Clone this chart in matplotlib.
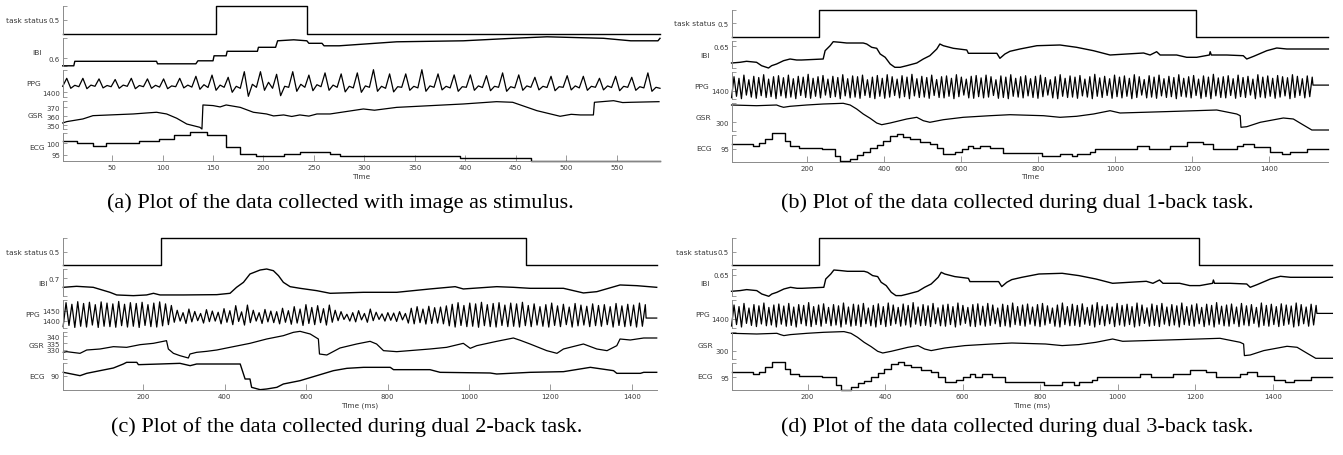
"""plot.py - stacked physiological recordings (task status, IBI, PPG, GSR, ECG) for four sessions"""

# === IMPORTS ===
import matplotlib
matplotlib.use("Agg")
import matplotlib.pyplot as plt
import numpy as np

# === CANVAS ===
FIG_W_PX = 1343
FIG_H_PX = 456
DPI = 100

TRACE_COLOR = "black"
AXIS_COLOR = "#8a8a8a"
TEXT_COLOR = "#3a3a3a"
TICK_FONT = 5.0
LABEL_FONT = 5.4
CAPTION_FONT = 16

SIGNAL_NAMES = ["task status", "IBI", "PPG", "GSR", "ECG"]

# === PANEL (a): image as stimulus ===
TASK_A_T = [1, 153, 243, 593]
TASK_A = [0, 1, 0, 0]

IBI_A_T = [1, 12, 13, 94, 95, 133, 135, 150, 151, 163, 164, 194, 195, 212, 214,
           230, 243, 245, 258, 260, 275, 332, 398, 447, 481, 537, 564, 591, 593]
IBI_A = [0.585, 0.585, 0.594, 0.594, 0.589, 0.589, 0.595, 0.595, 0.605, 0.605,
         0.614, 0.614, 0.622, 0.622, 0.635, 0.637, 0.635, 0.630, 0.630, 0.625,
         0.625, 0.633, 0.635, 0.640, 0.643, 0.640, 0.635, 0.635, 0.640]

# one row per beat: baseline, peak, dip, notch
PPG_A = [
    1430, 1470, 1420, 1435,
    1428, 1470, 1418, 1436,
    1430, 1467, 1422, 1434,
    1428, 1464, 1420, 1436,
    1430, 1470, 1418, 1434,
    1428, 1467, 1420, 1435,
    1426, 1467, 1418, 1432,
    1428, 1470, 1422, 1436,
    1426, 1480, 1415, 1438,
    1424, 1486, 1410, 1436,
    1425, 1475, 1400, 1430,
    1420, 1503, 1380, 1440,
    1425, 1503, 1410, 1450,
    1420, 1490, 1383, 1430,
    1425, 1503, 1405, 1440,
    1425, 1486, 1408, 1438,
    1428, 1497, 1410, 1436,
    1425, 1492, 1402, 1430,
    1422, 1497, 1400, 1432,
    1425, 1513, 1405, 1430,
    1420, 1492, 1402, 1428,
    1425, 1492, 1410, 1430,
    1422, 1513, 1405, 1432,
    1425, 1492, 1412, 1430,
    1422, 1487, 1405, 1428,
    1425, 1487, 1410, 1432,
    1424, 1483, 1408, 1430,
    1425, 1497, 1405, 1428,
    1422, 1487, 1410, 1432,
    1425, 1475, 1412, 1430,
    1424, 1480, 1408, 1428,
    1425, 1483, 1412, 1432,
    1422, 1480, 1410, 1430,
    1425, 1470, 1412, 1432,
    1424, 1480, 1408, 1430,
    1425, 1475, 1410, 1428,
    1422, 1497, 1405, 1425,
    1420,
]
PPG_A_SPAN = (1, 593)

GSR_A_T = [1, 5, 21, 31, 54, 71, 84, 94, 104, 114, 124, 137, 139, 140, 150, 157,
           163, 177, 190, 203, 210, 220, 228, 236, 245, 253, 266, 299, 310, 332,
           365, 398, 431, 447, 471, 494, 505, 514, 527, 528, 547, 556, 564, 592]
GSR_A = [352.5, 354, 357, 360.7, 361.8, 362.6, 363.7, 364.5, 362.6, 357.8,
         351.3, 347.6, 345.7, 372.7, 372, 370.5, 372.7, 370, 364.5, 362.6,
         360.4, 361.5, 359.8, 361.5, 360.2, 362.6, 362.6, 368.2, 366.8, 370,
         371.9, 373.8, 376.4, 375.7, 366.3, 360, 362.2, 361.5, 361.5, 375.7,
         377.5, 375.4, 375.7, 376.4]

ECG_A_T = [1, 15, 31, 44, 77, 96, 111, 127, 144, 163, 177, 193, 220, 236, 266,
           276, 395, 465, 593]
ECG_A = [100.7, 99.9, 98.8, 99.9, 100.7, 101.7, 103.5, 104.6, 103.5, 98.2,
         95.3, 94.3, 95.3, 96, 95.3, 94.6, 93.5, 92.4, 92.4]

# === PANEL (b): dual 1-back (panel (d), dual 3-back, shows the same recording) ===
TASK_B_T = [4, 230, 1210, 1554]
TASK_B = [0, 1, 0, 0]

IBI_B_T = [4, 26, 43, 69, 82, 100, 108, 121, 139, 156, 173, 186, 242, 247, 260,
           268, 286, 303, 346, 355, 368, 381, 390, 403, 416, 428, 442, 459, 485,
           502, 519, 537, 545, 554, 580, 615, 619, 693, 701, 714, 727, 753, 797,
           857, 900, 944, 987, 1030, 1074, 1091, 1108, 1117, 1160, 1186, 1212,
           1245, 1247, 1250, 1290, 1333, 1342, 1360, 1394, 1420, 1446, 1554]
IBI_B = [0.6166, 0.618, 0.620, 0.618, 0.6112, 0.6066, 0.6112, 0.6146, 0.6212, 0.6246,
         0.6226, 0.6226, 0.6246, 0.6412, 0.6512, 0.6592, 0.658, 0.6566, 0.6566, 0.6546,
         0.648, 0.646, 0.6346, 0.628, 0.6146, 0.608, 0.608, 0.6112, 0.6166, 0.6246,
         0.6312, 0.6446, 0.6546, 0.6512, 0.646, 0.6426, 0.636, 0.636, 0.626, 0.6346,
         0.640, 0.6446, 0.6512, 0.6526, 0.648, 0.6412, 0.6326, 0.6346, 0.6366, 0.6326,
         0.6392, 0.6326, 0.6326, 0.628, 0.628, 0.6326, 0.6392, 0.6326, 0.6326, 0.6312,
         0.6246, 0.630, 0.6412, 0.6466, 0.6446, 0.6446]

PPG_B_PEAK = [
    1470, 1462, 1478, 1455, 1472, 1466, 1480, 1458, 1470, 1475,
    1465, 1478, 1460, 1472, 1468, 1482, 1462, 1470, 1476, 1458,
    1472, 1466, 1480, 1460, 1474, 1470, 1478, 1455, 1468, 1476,
    1462, 1480, 1470, 1458, 1475, 1468, 1482, 1460, 1472, 1466,
    1478, 1456, 1470, 1474, 1462, 1480, 1468, 1458, 1472, 1476,
    1464, 1478, 1470, 1455, 1474, 1468, 1480, 1462, 1470, 1475,
    1460, 1472, 1478, 1466, 1455, 1470, 1480, 1462, 1474, 1468,
    1476, 1458, 1470, 1482, 1464, 1472, 1460, 1478, 1468, 1474,
    1462, 1480, 1470, 1456, 1475, 1468, 1478, 1460, 1472, 1466,
    1480, 1462, 1470, 1476, 1458, 1474, 1468, 1482, 1464, 1470,
    1475, 1460, 1478, 1466, 1472, 1458, 1480, 1468, 1474, 1462,
    1476, 1470, 1465, 1480, 1472, 1460, 1474, 1468,
]
PPG_B_TROUGH = [
    1365, 1372, 1360, 1378, 1368, 1362, 1375, 1366, 1370, 1360,
    1374, 1364, 1368, 1360, 1376, 1366, 1362, 1372, 1364, 1378,
    1366, 1370, 1360, 1374, 1364, 1368, 1362, 1376, 1366, 1360,
    1372, 1362, 1368, 1376, 1364, 1370, 1360, 1374, 1366, 1368,
    1362, 1376, 1366, 1364, 1372, 1360, 1370, 1378, 1364, 1362,
    1370, 1364, 1368, 1376, 1362, 1366, 1360, 1372, 1368, 1364,
    1374, 1366, 1362, 1370, 1378, 1364, 1360, 1372, 1366, 1368,
    1362, 1374, 1368, 1360, 1372, 1366, 1376, 1362, 1370, 1364,
    1372, 1360, 1366, 1378, 1364, 1368, 1362, 1374, 1366, 1370,
    1360, 1372, 1368, 1364, 1376, 1362, 1370, 1360, 1374, 1366,
    1364, 1376, 1362, 1370, 1366, 1378, 1360, 1368, 1364, 1372,
    1362, 1368, 1374, 1360, 1366, 1376, 1364, 1370,
]
PPG_B_SPAN = (4, 1512)
PPG_B_TAIL = (1554, 1428)

GSR_B_T = [4, 69, 121, 130, 139, 156, 199, 242, 294, 312, 329, 346, 364, 381,
           394, 416, 459, 485, 502, 519, 554, 606, 675, 727, 814, 857, 900, 944,
           987, 1013, 1074, 1160, 1264, 1316, 1325, 1327, 1342, 1377, 1437, 1463,
           1489, 1511, 1554]
GSR_B = [334.6, 333.2, 334.6, 332, 330, 332, 334.6, 336.6, 338, 334.6,
         326.6, 316.6, 308, 298.6, 295.2, 298.6, 306.6, 310, 303.2, 300,
         305.2, 310, 313.2, 315.2, 313.2, 310, 312, 316.6, 323.2, 318.6,
         320, 322, 324.6, 316.6, 313.2, 290, 291.2, 300, 308.6, 306.6,
         294.6, 284.6, 284.6]

ECG_B_T = [4, 60, 74, 91, 108, 143, 156, 178, 238, 273, 286, 312, 329, 346, 364,
           381, 398, 416, 433, 450, 468, 494, 519, 537, 554, 584, 602, 619, 632,
           650, 675, 710, 810, 857, 887, 900, 935, 948, 1057, 1087, 1143, 1186,
           1229, 1255, 1316, 1333, 1360, 1403, 1433, 1455, 1498, 1554]
ECG_B = [97, 96.3, 97.3, 99, 101.3, 98.3, 96.3, 95.4, 95, 92.1,
         90.1, 91, 92.6, 93.7, 95.3, 96.6, 98.3, 100.3, 101, 99.9,
         99, 97.9, 97, 95.3, 93, 93.9, 95, 96.3, 95.3, 96.3,
         95.3, 93.3, 92.1, 93, 92.1, 93, 93.9, 95, 96.3, 95,
         96.3, 97.9, 97, 95, 96.3, 97, 95.7, 93.9, 93, 93.9,
         95, 95]

# === PANEL (c): dual 2-back ===
TASK_C_T = [2, 243, 1140, 1461]
TASK_C = [0, 1, 0, 0]

IBI_C_T = [3.5, 36, 77, 118, 134.5, 175.5, 208, 225, 241, 298.5, 380.5, 413,
           429, 446, 462, 487, 503, 519.5, 532, 544, 560.6, 585, 626, 659,
           740.6, 822.5, 904, 966, 986, 1068, 1109, 1150, 1232, 1281, 1314,
           1371, 1412, 1461]
IBI_C = [0.682, 0.684, 0.682, 0.672, 0.6667, 0.6653, 0.6667, 0.670, 0.6667, 0.6667,
         0.6673, 0.670, 0.682, 0.692, 0.7087, 0.7167, 0.7187, 0.7153, 0.7053, 0.692,
         0.6833, 0.680, 0.6753, 0.670, 0.672, 0.672, 0.6787, 0.6833, 0.6787, 0.6833,
         0.682, 0.680, 0.680, 0.6707, 0.6733, 0.6867, 0.6853, 0.682]

PPG_C_PEAK = [
    1490, 1482, 1495, 1486, 1492, 1480, 1494, 1488, 1484, 1496,
    1482, 1490, 1486, 1492, 1480, 1488, 1494, 1484, 1476,
    1452, 1440, 1458, 1446, 1436, 1455, 1448, 1442, 1460, 1450,
    1475, 1444, 1478, 1452, 1440, 1456, 1448, 1445, 1462, 1450,
    1470, 1458, 1480, 1466, 1475, 1460, 1478, 1452,
    1445, 1432, 1440, 1450, 1436, 1458, 1442, 1434, 1440, 1438, 1445, 1436,
    1462, 1470, 1458, 1472, 1465, 1468, 1474,
    1482, 1490, 1476, 1488, 1484, 1492, 1480, 1486, 1490, 1478, 1488, 1484, 1492,
    1476, 1484, 1470, 1480, 1488, 1474, 1482, 1468, 1486, 1478,
    1472, 1484, 1476, 1480, 1470, 1486, 1474, 1482, 1478, 1488, 1480,
]
PPG_C_TROUGH = [
    1370, 1376, 1366, 1372, 1368, 1378, 1366, 1372, 1370, 1367,
    1375, 1368, 1372, 1366, 1376, 1370, 1368, 1374, 1380,
    1392, 1398, 1386, 1394, 1400, 1388, 1395, 1398, 1384, 1392,
    1380, 1396, 1378, 1390, 1398, 1386, 1394, 1390, 1384, 1392,
    1382, 1388, 1376, 1386, 1380, 1390, 1378, 1392,
    1400, 1406, 1398, 1394, 1404, 1392, 1400, 1406, 1398, 1402, 1396, 1404,
    1388, 1384, 1390, 1383, 1386, 1388, 1384,
    1374, 1368, 1376, 1370, 1372, 1367, 1375, 1370, 1368, 1376, 1370, 1372, 1368,
    1375, 1370, 1378, 1372, 1368, 1376, 1370, 1380, 1368, 1374,
    1378, 1370, 1375, 1372, 1380, 1368, 1376, 1370, 1374, 1368, 1372,
]
PPG_C_SPAN = (3, 1433)
PPG_C_TAIL = (1461, 1413)

GSR_C_T = [3.5, 11.7, 44.5, 61, 93.6, 126.5, 159, 192, 224.6, 249, 257, 261.5,
           274, 290, 310.6, 314.7, 331, 355.7, 380.5, 421, 462, 503, 544, 568.6,
           585, 610, 630, 632.7, 650.7, 683, 724, 757, 773, 790, 822.5, 904, 945,
           986, 1003, 1019, 1068, 1109, 1126, 1150, 1191, 1216, 1232, 1281, 1314,
           1339, 1363, 1371, 1396, 1429, 1461]
GSR_C = [328, 328.5, 327.25, 329.75, 330.5, 332.25, 331.75, 333.75, 334.75, 336.25,
         336.75, 330.5, 327.25, 325.5, 323.75, 326.75, 328, 328.75, 329.75, 332.25,
         334.75, 338, 340.5, 343, 343.75, 341.75, 338, 326.75, 326, 331.25,
         334.25, 336.25, 334.25, 329.25, 328.5, 330.5, 331.75, 334.75, 331, 333,
         336.25, 338.75, 337, 334.25, 329.25, 327.25, 330.5, 334.25, 330.5, 329.25,
         333, 338, 337.25, 338.75, 338.75]

ECG_C_T = [3.5, 44.5, 61, 93.6, 126.5, 151, 159, 184, 188, 241, 290, 315, 331,
           438, 450, 462, 466, 487, 503, 528, 544, 585, 626, 667, 700, 741,
           806.5, 814.6, 904, 929, 1052, 1068, 1150, 1232, 1298, 1355, 1363,
           1421, 1429, 1461]
ECG_C = [91, 90, 90.7, 91.5, 92.3, 93.5, 94, 94, 93.3, 93.5,
         93.7, 93, 93.5, 93.5, 89, 89, 86.5, 85.8, 86, 86.5,
         87.5, 88.5, 90, 91.5, 92.2, 92.5, 92.5, 91.8, 91.8, 91,
         90.8, 90.5, 91, 91.2, 92.5, 91.5, 90.7, 90.7, 91, 91]

# === AXIS SETTINGS PER PANEL (limits and labelled ticks) ===
YLIM_A = [(0, 1), (0.5854, 0.641), (1374.5, 1513.5), (345.5, 376.7), (92.3, 104.2)]
YTICKS_A = [[0.5], [0.6], [1400], [350, 360, 370], [95, 100]]
YLIM_B = [(0, 1), (0.6064, 0.6608), (1357, 1493), (283.6, 338), (89.9, 100.8)]
YTICKS_B = [[0.5], [0.65], [1400], [300], [95]]
YLIM_C = [(0, 1), (0.6638, 0.7183), (1365.3, 1501.3), (323.15, 343.55), (85.7, 93.86)]
YTICKS_C = [[0.5], [0.7], [1400, 1450], [330, 335, 340], [90]]

XTICKS_A = [50, 100, 150, 200, 250, 300, 350, 400, 450, 500, 550]
XTICKS_MS = [200, 400, 600, 800, 1000, 1200, 1400]

CAPTIONS = [
    "(a) Plot of the data collected with image as stimulus.",
    "(b) Plot of the data collected during dual 1-back task.",
    "(c) Plot of the data collected during dual 2-back task.",
    "(d) Plot of the data collected during dual 3-back task.",
]


# === HELPERS ===

def px_rect(left, right, top, bottom):
    """Convert a pixel box (origin top-left) to a figure-fraction rect."""
    return [left / FIG_W_PX, 1 - bottom / FIG_H_PX,
            (right - left) / FIG_W_PX, (bottom - top) / FIG_H_PX]


def zigzag(peaks, troughs, span, tail):
    """Interleave peak / trough readings of a pulse trace and add its flat tail."""
    values = np.empty(2 * len(peaks))
    values[0::2] = troughs
    values[1::2] = peaks
    t = np.linspace(span[0], span[1], len(values))
    t = np.append(t, [span[1] + 2, tail[0]])
    values = np.append(values, [tail[1], tail[1]])
    return t, values


def build_series(task, ibi, ppg, gsr, ecg, ylims, yticks, step_ecg):
    traces = [task, ibi, ppg, gsr, ecg]
    styles = ["steps-post", "default", "default", "default",
              "steps-post" if step_ecg else "default"]
    widths = [1.0, 1.0, 0.9, 0.9, 1.0]
    series = []
    for name, (t, v), ylim, ticks, style, lw in zip(SIGNAL_NAMES, traces, ylims,
                                                     yticks, styles, widths):
        series.append({"name": name, "t": t, "v": v, "ylim": ylim,
                       "ticks": ticks, "style": style, "lw": lw})
    return series


def draw_panel(fig, panel):
    left, right, top, bottom = panel["box"]
    gap = 4
    n = len(panel["series"])
    h = (bottom - top - gap * (n - 1)) / n
    width = right - left

    for i, s in enumerate(panel["series"]):
        ax_top = top + i * (h + gap)
        ax = fig.add_axes(px_rect(left, right, ax_top, ax_top + h))
        ax.patch.set_alpha(0)
        ax.plot(s["t"], s["v"], color=TRACE_COLOR, lw=s["lw"],
                drawstyle=s["style"], clip_on=False)
        ax.set_xlim(panel["xlim"])
        ax.set_ylim(s["ylim"])

        for side in ("top", "right"):
            ax.spines[side].set_visible(False)
        for side in ("left", "bottom"):
            ax.spines[side].set_color(AXIS_COLOR)
            ax.spines[side].set_linewidth(0.7)

        lo, hi = s["ylim"]
        ax.set_yticks([lo] + s["ticks"] + [hi])
        ax.set_yticklabels([""] + [f"{v:g}" for v in s["ticks"]] + [""])
        ax.tick_params(axis="y", direction="in", length=3, width=0.6,
                       colors=AXIS_COLOR, labelcolor=TEXT_COLOR,
                       labelsize=TICK_FONT, pad=2)

        ax.text(-panel["label_gap"][i] / width, 0.5, s["name"],
                transform=ax.transAxes, ha="right", va="center",
                fontsize=LABEL_FONT, color=TEXT_COLOR)

        if i == n - 1:
            ax.set_xticks(panel["xticks"])
            ax.tick_params(axis="x", direction="in", length=4, width=0.6,
                           colors=AXIS_COLOR, labelcolor=TEXT_COLOR,
                           labelsize=TICK_FONT, pad=2.5)
            ax.set_xlabel(panel["xlabel"], fontsize=LABEL_FONT - 0.1,
                          color=TEXT_COLOR, labelpad=1.5)
        else:
            ax.spines["bottom"].set_visible(False)
            ax.set_xticks([])

    fig.text(panel["caption_xy"][0] / FIG_W_PX, 1 - panel["caption_xy"][1] / FIG_H_PX,
             panel["caption"], ha="center", va="center",
             family="Liberation Serif", fontsize=CAPTION_FONT, color="black")


# === MAIN ===

def main():
    ppg_a_t = np.linspace(PPG_A_SPAN[0], PPG_A_SPAN[1], len(PPG_A))
    ppg_b = zigzag(PPG_B_PEAK, PPG_B_TROUGH, PPG_B_SPAN, PPG_B_TAIL)
    ppg_c = zigzag(PPG_C_PEAK, PPG_C_TROUGH, PPG_C_SPAN, PPG_C_TAIL)

    series_a = build_series((TASK_A_T, TASK_A), (IBI_A_T, IBI_A), (ppg_a_t, PPG_A),
                            (GSR_A_T, GSR_A), (ECG_A_T, ECG_A), YLIM_A, YTICKS_A, True)
    series_b = build_series((TASK_B_T, TASK_B), (IBI_B_T, IBI_B), ppg_b,
                            (GSR_B_T, GSR_B), (ECG_B_T, ECG_B), YLIM_B, YTICKS_B, True)
    series_c = build_series((TASK_C_T, TASK_C), (IBI_C_T, IBI_C), ppg_c,
                            (GSR_C_T, GSR_C), (ECG_C_T, ECG_C), YLIM_C, YTICKS_C, False)

    panels = [
        {"box": (62.7, 660, 7, 162), "xlim": (1, 593), "xticks": XTICKS_A,
         "xlabel": "Time", "series": series_a, "label_gap": [15, 21, 22, 19, 18],
         "caption": CAPTIONS[0], "caption_xy": (340, 203)},
        {"box": (731.7, 1328, 10.7, 162.7), "xlim": (4.4, 1553), "xticks": XTICKS_MS,
         "xlabel": "Time", "series": series_b, "label_gap": [16, 22, 23, 20, 20],
         "caption": CAPTIONS[1], "caption_xy": (1017, 203)},
        {"box": (62.7, 656.7, 239, 391), "xlim": (2, 1461), "xticks": XTICKS_MS,
         "xlabel": "Time (ms)", "series": series_c, "label_gap": [15, 15, 22.5, 18.5, 18],
         "caption": CAPTIONS[2], "caption_xy": (347, 427)},
        {"box": (731.7, 1332, 239, 391), "xlim": (4.4, 1553), "xticks": XTICKS_MS,
         "xlabel": "Time (ms)", "series": series_b, "label_gap": [14.5, 22, 22, 18.5, 18.5],
         "caption": CAPTIONS[3], "caption_xy": (1017, 427)},
    ]

    fig = plt.figure(figsize=(FIG_W_PX / DPI, FIG_H_PX / DPI), dpi=DPI)
    fig.patch.set_facecolor("white")
    for panel in panels:
        draw_panel(fig, panel)

    fig.savefig("out.png", dpi=DPI, facecolor="white")
    plt.close(fig)


if __name__ == "__main__":
    main()
